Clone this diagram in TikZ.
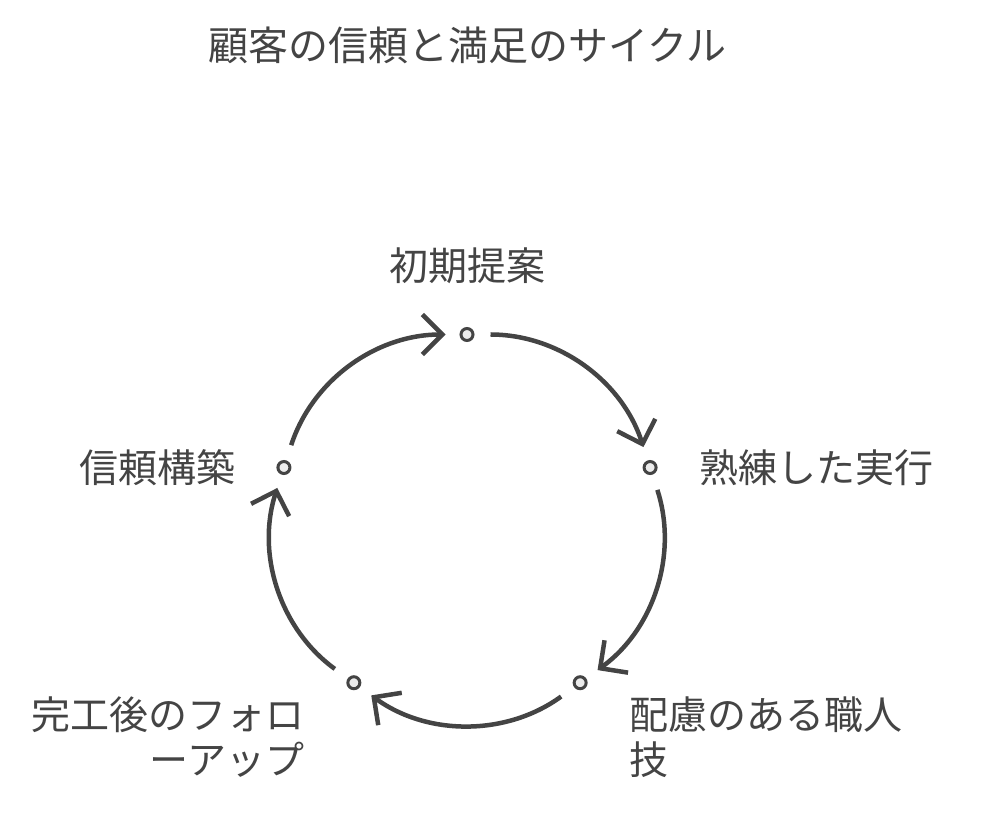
\documentclass[tikz,border=0pt]{standalone}
\usepackage{fontspec}
\setmainfont{Noto Sans CJK JP}
\usetikzlibrary{arrows.meta,positioning}
\definecolor{cyclegray}{RGB}{68,68,68}
\definecolor{dotfill}{RGB}{236,236,236}

\begin{document}
\begin{tikzpicture}[x=1pt,y=1pt,
    dot/.style={circle, draw=cyclegray, fill=dotfill, line width=3pt, minimum size=12pt, inner sep=0pt},
    lbl/.style={text=cyclegray, font=\fontsize{39}{45}\selectfont, inner sep=0pt},
    cyc/.style={draw=cyclegray, line width=4.5pt, -{Straight Barb[length=20pt,width=40pt]}, shorten <=16pt, shorten >=14pt}]
    \useasboundingbox (0,0) rectangle (984,816);

    \node[lbl, font=\fontsize{40}{45}\selectfont] (title) at (467,771) {顧客の信頼と満足のサイクル};

    % five steps round the cycle
    \coordinate (mid) at (467,289);
    \node[dot] (teian) at ([shift={(90:192.5)}]mid) {};
    \node[dot] (jukuren) at ([shift={(18:192.5)}]mid) {};
    \node[dot] (hairyo) at ([shift={(-54:192.5)}]mid) {};
    \node[dot] (follow) at ([shift={(-126:192.5)}]mid) {};
    \node[dot] (shinrai) at ([shift={(162:192.5)}]mid) {};

    \node[lbl, above=43pt of teian] (teianL) {初期提案};
    \node[lbl, right=42pt of jukuren] (jukurenL) {熟練した実行};
    \node[lbl, align=left, below right=8pt and 44pt of hairyo] (hairyoL) {配慮のある職人\\技};
    \node[lbl, align=right, below left=8pt and 44pt of follow] (followL) {完工後のフォロ\\ーアップ};
    \node[lbl, left=41pt of shinrai] (shinraiL) {信頼構築};

    \draw[cyc] (teian) to[bend left=36] (jukuren);
    \draw[cyc] (jukuren) to[bend left=36] (hairyo);
    \draw[cyc] (hairyo) to[bend left=36] (follow);
    \draw[cyc] (follow) to[bend left=36] (shinrai);
    \draw[cyc] (shinrai) to[bend left=36] (teian);
\end{tikzpicture}
\end{document}
